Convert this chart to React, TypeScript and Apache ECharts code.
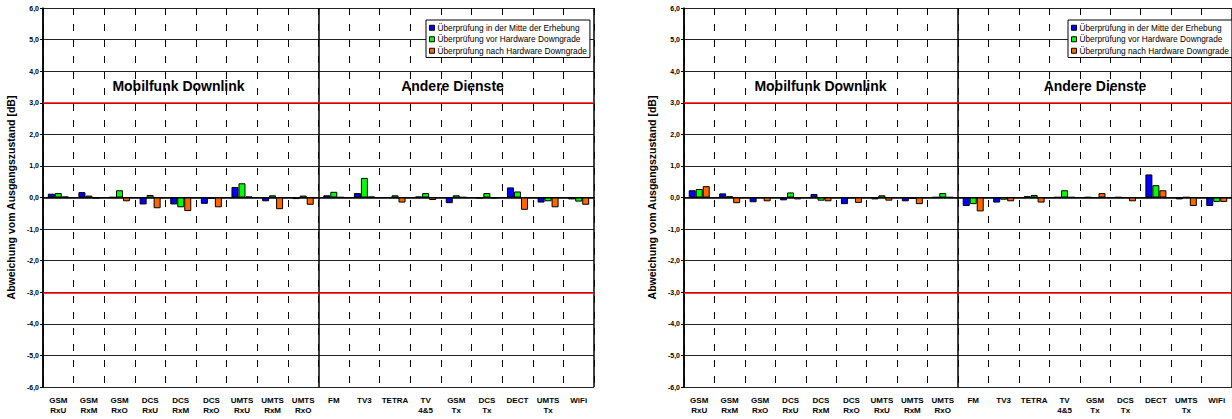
import React, { useEffect, useRef } from "react";
import * as echarts from "echarts";

// Measurement positions / services on the x axis
const categories = [
  "GSM\nRxU", "GSM\nRxM", "GSM\nRxO", "DCS\nRxU", "DCS\nRxM", "DCS\nRxO",
  "UMTS\nRxU", "UMTS\nRxM", "UMTS\nRxO",
  "FM", "TV3", "TETRA", "TV\n4&5", "GSM\nTx", "DCS\nTx", "DECT", "UMTS\nTx", "WiFi",
];

const seriesNames = [
  "Überprüfung in der Mitte der Erhebung",
  "Überprüfung vor Hardware Downgrade",
  "Überprüfung nach Hardware Downgrade",
];
const seriesColors = ["#0000FF", "#00FF00", "#FF6600"];

// Left panel: deviation from initial state [dB]
const leftMitte = [0.12, 0.17, 0.01, -0.22, -0.22, -0.2, 0.33, -0.12, -0.05, 0.07, 0.14, 0.0, 0.03, -0.18, -0.02, 0.32, -0.16, -0.06];
const leftVor = [0.14, 0.06, 0.23, 0.08, -0.31, -0.04, 0.45, 0.07, 0.06, 0.18, 0.62, 0.07, 0.14, 0.07, 0.14, 0.19, -0.12, -0.13];
const leftNach = [0.03, -0.02, -0.12, -0.34, -0.43, -0.31, 0.03, -0.37, -0.23, 0.01, 0.03, -0.16, -0.08, 0.01, -0.02, -0.39, -0.31, -0.23];

// Right panel: deviation from initial state [dB]
const rightMitte = [0.23, 0.13, -0.15, -0.09, 0.11, -0.21, -0.06, -0.12, 0.01, -0.27, -0.16, 0.04, 0.01, 0.01, 0.01, 0.73, -0.06, -0.27];
const rightVor = [0.27, 0.04, 0.0, 0.16, -0.1, -0.01, 0.07, -0.04, 0.14, -0.21, -0.07, 0.08, 0.23, 0.0, 0.0, 0.39, 0.01, -0.14];
const rightNach = [0.36, -0.18, -0.12, -0.06, -0.12, -0.17, -0.1, -0.21, 0.01, -0.44, -0.12, -0.16, 0.01, 0.14, -0.12, 0.23, -0.27, -0.14];

// Tolerance band limits [dB]
const limits = [3, -3];

const yAxisTitle = "Abweichung vom Ausgangszustand [dB]";
const groupTitles = ["Mobilfunk Downlink", "Andere Dienste"];

const FONT = 'Arial, "Liberation Sans", sans-serif';

const panels = [
  { left: 43, data: [leftMitte, leftVor, leftNach], legendLeft: 426, titleX: [178.5, 452.5] },
  { left: 684, data: [rightMitte, rightVor, rightNach], legendLeft: 1068, titleX: [820.5, 1095] },
];

export default function App() {
  const ref = useRef<HTMLDivElement>(null);

  useEffect(() => {
    if (!ref.current) return;
    const chart = echarts.init(ref.current, null, { renderer: "svg" });

    const grids: any[] = [];
    const xAxes: any[] = [];
    const yAxes: any[] = [];
    const series: any[] = [];
    const legends: any[] = [];
    const graphics: any[] = [];

    panels.forEach((p, gi) => {
      grids.push({ left: p.left, top: 8, width: 551, height: 379, containLabel: false });

      // Category axis with dashed separators between measurement points
      xAxes.push({
        type: "category",
        gridIndex: gi,
        data: categories,
        boundaryGap: true,
        axisLine: { show: true, lineStyle: { color: "#000", width: 1.5 } },
        axisTick: { show: false },
        axisLabel: {
          interval: 0,
          margin: 8,
          color: "#000",
          fontFamily: FONT,
          fontWeight: "bold",
          fontSize: 8,
          lineHeight: 10.4,
        },
        splitLine: { show: true, lineStyle: { color: "#000", width: 1, type: [7, 9] } },
      });
      // Helper axis: solid frame lines and the group separator
      xAxes.push({
        type: "value",
        gridIndex: gi,
        position: "top",
        min: 0,
        max: 18,
        interval: 9,
        axisLine: { show: false },
        axisTick: { show: false },
        axisLabel: { show: false },
        splitLine: { show: true, lineStyle: { color: "#000", width: 1.5 } },
      });

      yAxes.push({
        type: "value",
        gridIndex: gi,
        min: -6,
        max: 6,
        interval: 1,
        name: yAxisTitle,
        nameLocation: "middle",
        nameRotate: 90,
        nameGap: 27,
        nameTextStyle: { color: "#000", fontFamily: FONT, fontWeight: "bold", fontSize: 10.5 },
        axisLine: { show: true, lineStyle: { color: "#000", width: 1.5 } },
        axisTick: { show: true, inside: false, length: 3, lineStyle: { color: "#000" } },
        axisLabel: {
          margin: 4,
          color: "#000",
          fontFamily: FONT,
          fontWeight: "bold",
          fontSize: 7,
          formatter: (v: number) => v.toFixed(1).replace(".", ","),
        },
        splitLine: { show: true, lineStyle: { color: "#222", width: 1 } },
      });

      p.data.forEach((vals, si) => {
        const s: any = {
          type: "bar",
          name: seriesNames[si],
          xAxisIndex: gi * 2,
          yAxisIndex: gi,
          data: vals,
          barWidth: 7,
          barGap: "0%",
          itemStyle: { color: seriesColors[si], borderColor: "#000", borderWidth: 1 },
        };
        if (si === 0) {
          s.markLine = {
            silent: true,
            symbol: "none",
            label: { show: false },
            lineStyle: { color: "#FF0000", width: 1.6, type: "solid" },
            data: limits.map((y) => ({ yAxis: y })),
          };
        }
        series.push(s);
      });

      legends.push({
        orient: "vertical",
        left: p.legendLeft,
        top: 20,
        data: seriesNames,
        icon: "rect",
        itemWidth: 5,
        itemHeight: 5,
        itemGap: 0,
        padding: [2, 3, 1, 3],
        backgroundColor: "#fff",
        borderColor: "#000",
        borderWidth: 1,
        itemStyle: { borderColor: "#000", borderWidth: 1 },
        textStyle: { color: "#000", fontFamily: FONT, fontSize: 8.3, lineHeight: 11.5, padding: [0, 0, 0, -2] },
        selectedMode: false,
      });

      groupTitles.forEach((t, ti) => {
        graphics.push({
          type: "text",
          x: p.titleX[ti],
          y: 86,
          style: {
            text: t,
            fill: "#000",
            font: `bold 14px ${FONT}`,
            align: "center",
            verticalAlign: "middle",
          },
          z: 100,
        });
      });
    });

    chart.setOption({
      animation: false,
      backgroundColor: "#fff",
      grid: grids,
      xAxis: xAxes,
      yAxis: yAxes,
      legend: legends,
      series,
      graphic: graphics,
    });

    return () => chart.dispose();
  }, []);

  return (
    <div
      ref={ref}
      style={{ position: "absolute", left: 0, top: 0, width: 1232, height: 419 }}
    />
  );
}
